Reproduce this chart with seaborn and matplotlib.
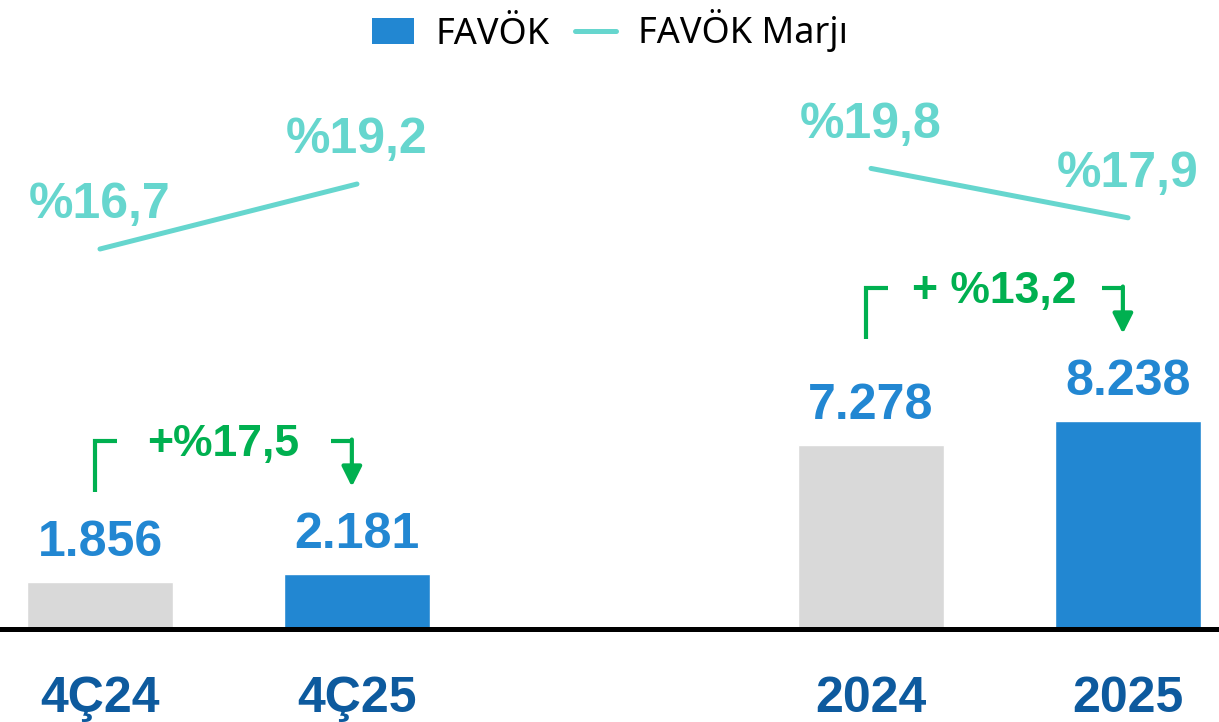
import matplotlib
matplotlib.use('Agg')
import matplotlib.pyplot as plt
from matplotlib.patches import Patch
from matplotlib.lines import Line2D
import pandas as pd
import seaborn as sns

periods = ['4Ç24', '4Ç25', '2024', '2025']
favok = [1856, 2181, 7278, 8238]
margin = [16.7, 19.2, 19.8, 17.9]
favok_labels = ['1.856', '2.181', '7.278', '8.238']
margin_labels = ['%16,7', '%19,2', '%19,8', '%17,9']
groups = [('4Ç24', '4Ç25'), ('2024', '2025')]
growth_labels = ['+%17,5', '+ %13,2']

# blank slot between the quarterly and yearly pairs
order = ['4Ç24', '4Ç25', ' ', '2024', '2025']

grey = '#D9D9D9'
blue = '#2287D2'
teal = '#66D6CE'
green = '#00B050'
navy = '#0D5A9E'
bar_colors = {'4Ç24': grey, '4Ç25': blue, '2024': grey, '2025': blue}

sns.set_style('white')
plt.rcParams['font.family'] = ['Liberation Sans', 'DejaVu Sans']

df = pd.DataFrame({'period': periods, 'favok': favok, 'margin': margin})
pos = {p: order.index(p) for p in periods}

fig = plt.figure(figsize=(12.19, 7.22), dpi=100)
ax = fig.add_axes([0, 1 - 629 / 722, 1, 629 / 722])

sns.barplot(data=df, x='period', y='favok', order=order, hue='period',
            palette=bar_colors, legend=False, width=0.57, saturation=1, ax=ax)
ax.set_xlim(-0.389, 4.354)
ax.set_ylim(0, 24900)

for p, v, lab in zip(periods, favok, favok_labels):
    ax.annotate(lab, (pos[p], v), xytext=(0, 19), textcoords='offset points',
                ha='center', va='baseline', fontsize=36, fontweight='bold', color=blue)

# growth brackets
for (a, b), lab in zip(groups, growth_labels):
    xa, xb = pos[a], pos[b]
    hi = max(favok[periods.index(a)], favok[periods.index(b)])
    top = hi + 5270
    ax.plot([xa - 0.02, xa - 0.02, xa + 0.065], [hi + 3250, top, top],
            color=green, lw=3, solid_joinstyle='miter', solid_capstyle='butt')
    ax.plot([xb - 0.1, xb - 0.02], [top, top], color=green, lw=3, solid_capstyle='butt')
    ax.annotate('', xy=(xb - 0.02, hi + 3450), xytext=(xb - 0.02, top + 50),
                arrowprops=dict(arrowstyle='-|>,head_length=0.8,head_width=0.4',
                                color=green, lw=3, mutation_scale=15,
                                shrinkA=0, shrinkB=0))
    ax.text((xa + xb) / 2 - 0.02, top - 600, lab, ha='center', va='baseline',
            fontsize=32, fontweight='bold', color=green)

ax.set_xlabel('')
ax.set_ylabel('')
ax.set_yticks([])
ax.tick_params(axis='x', length=0, pad=34)
ax.set_xticks([pos[p] for p in periods])
ax.set_xticklabels(periods, fontsize=36, fontweight='bold', color=navy)
for s in ['top', 'left', 'right']:
    ax.spines[s].set_visible(False)
ax.spines['bottom'].set_color('black')
ax.spines['bottom'].set_linewidth(3.6)

# margin line on secondary axis
ax2 = ax.twinx()
for a, b in groups:
    sub = df[df['period'].isin([a, b])]
    sns.lineplot(x=[pos[p] for p in sub['period']], y=sub['margin'].values, ax=ax2,
                 color=teal, lw=3.6, solid_capstyle='round')
for p, v, lab in zip(periods, margin, margin_labels):
    ax2.annotate(lab, (pos[p], v), xytext=(0, 22), textcoords='offset points',
                 ha='center', va='baseline', fontsize=36, fontweight='bold', color=teal)
ax2.set_ylim(2.08, 26.28)
ax2.set_xlim(-0.389, 4.354)
ax2.set_yticks([])
ax2.set_ylabel('')
for s in ax2.spines.values():
    s.set_visible(False)

handles = [Patch(facecolor=blue, edgecolor='none'),
           Line2D([0], [0], color=teal, lw=3.6, solid_capstyle='round')]
leg = fig.legend(handles, ['FAVÖK', 'FAVÖK Marjı'], loc='center', ncol=2,
                 bbox_to_anchor=(610 / 1219, 1 - 31 / 722), frameon=False,
                 prop={'family': 'Noto Sans', 'size': 26}, handlelength=1.15,
                 handletextpad=0.6, columnspacing=0.7)
for t in leg.get_texts():
    t.set_color('black')

fig.savefig('out.png', dpi=100)
